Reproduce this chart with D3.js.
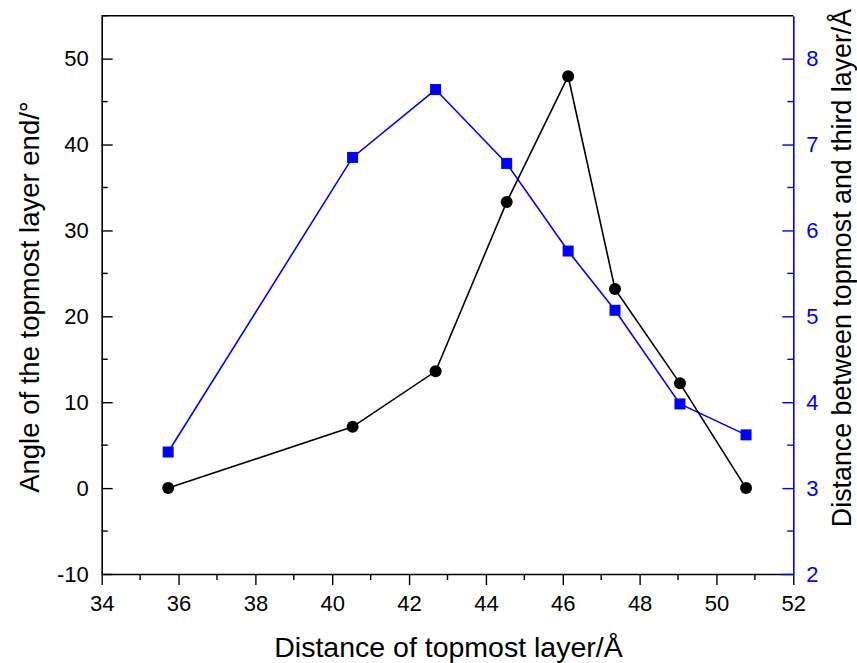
<!DOCTYPE html>
<html><head><meta charset="utf-8">
<script src="https://cdn.jsdelivr.net/npm/d3@7"></script>
<style>body{margin:0;background:#fff}svg{display:block}text{font-family:"Liberation Sans",Arial,sans-serif}</style>
</head><body>
<svg id="c" width="857" height="663"></svg>
<script>
const xValues = [35.73, 40.53, 42.69, 44.54, 46.14, 47.36, 49.05, 50.77];
const angleValues = [0, 7.13, 13.6, 33.3, 47.95, 23.17, 12.2, 0];
const distValues = [3.42, 6.85, 7.64, 6.78, 5.76, 5.07, 3.98, 3.62];
const xTicks = [34, 36, 38, 40, 42, 44, 46, 48, 50, 52];
const leftTicks = [-10, 0, 10, 20, 30, 40, 50];
const rightTicks = [2, 3, 4, 5, 6, 7, 8];
const xTitle = "Distance of topmost layer/Å";
const leftTitle = "Angle of the topmost layer end/°";
const rightTitle = "Distance between topmost and third layer/Å";

const svg = d3.select("#c");
const L = 101.7, R = 793.3, T = 15.7, B = 574;
const x = d3.scaleLinear().domain([34, 52]).range([L, R]);
const yL = d3.scaleLinear().domain([-10, 55]).range([B, T]);
const yR = d3.scaleLinear().domain([2, 8.5]).range([B, T]);
const blue = "#0000ff";
const fmt = d => String(d);

// top border
svg.append("line").attr("x1", L).attr("x2", R).attr("y1", T).attr("y2", T).attr("stroke", "#000").attr("stroke-width", 1.6);

// bottom axis
const gx = svg.append("g").attr("transform", `translate(0,${B})`)
  .call(d3.axisBottom(x).tickValues(xTicks).tickFormat(fmt).tickSize(11).tickPadding(10).tickSizeOuter(0));
gx.attr("font-size", null).attr("font-family", null);
gx.selectAll(".tick text").style("font-size", "22px").attr("fill", "#000");
gx.select(".domain").attr("stroke-width", 1.6);
gx.selectAll(".tick line").attr("stroke-width", 1.4);
const xMinor = d3.range(35, 52, 2);
svg.append("g").selectAll("line").data(xMinor).join("line")
  .attr("x1", d => x(d)).attr("x2", d => x(d)).attr("y1", B).attr("y2", B + 6)
  .attr("stroke", "#000").attr("stroke-width", 1.4);

// left axis (inward ticks)
const gl = svg.append("g").attr("transform", `translate(${L},0)`)
  .call(d3.axisLeft(yL).tickValues(leftTicks).tickFormat(fmt).tickSize(-11).tickPadding(13).tickSizeOuter(0));
gl.attr("font-size", null).attr("font-family", null);
gl.select(".domain").attr("stroke-width", 1.6);
gl.selectAll(".tick line").attr("stroke-width", 1.4);
gl.selectAll(".tick text").style("font-size", "22px").attr("fill", "#000").attr("x", -13);
const lMinor = [-5, 5, 15, 25, 35, 45, 55];
svg.append("g").selectAll("line").data(lMinor).join("line")
  .attr("x1", L).attr("x2", L + 6).attr("y1", d => yL(d)).attr("y2", d => yL(d))
  .attr("stroke", "#000").attr("stroke-width", 1.4);

// right axis (inward ticks), blue
const gr = svg.append("g").attr("transform", `translate(${R},0)`)
  .call(d3.axisRight(yR).tickValues(rightTicks).tickFormat(fmt).tickSize(-11).tickPadding(13).tickSizeOuter(0));
gr.attr("font-size", null).attr("font-family", null);
gr.select(".domain").attr("stroke", blue).attr("stroke-width", 1.6);
gr.selectAll(".tick line").attr("stroke", blue).attr("stroke-width", 1.4);
gr.selectAll(".tick text").style("font-size", "22px").attr("fill", blue).attr("x", 13);
const rMinor = [2.5, 3.5, 4.5, 5.5, 6.5, 7.5];
svg.append("g").selectAll("line").data(rMinor).join("line")
  .attr("x1", R - 6).attr("x2", R).attr("y1", d => yR(d)).attr("y2", d => yR(d))
  .attr("stroke", blue).attr("stroke-width", 1.4);

// titles
svg.append("text").attr("x", 448.5).attr("y", 657).attr("text-anchor", "middle")
  .style("font-size", "28.5px").text(xTitle);
svg.append("text").attr("transform", `translate(38.5,297) rotate(-90)`).attr("text-anchor", "middle")
  .style("font-size", "27.5px").text(leftTitle);
svg.append("text").attr("transform", `translate(851,268) rotate(-90)`).attr("text-anchor", "middle")
  .style("font-size", "26.8px").text(rightTitle);

// series
const ptsA = xValues.map((d, i) => [d, angleValues[i]]);
const ptsD = xValues.map((d, i) => [d, distValues[i]]);
svg.append("path").datum(ptsD).attr("fill", "none").attr("stroke", blue).attr("stroke-width", 1.6)
  .attr("d", d3.line().x(d => x(d[0])).y(d => yR(d[1])));
svg.append("path").datum(ptsA).attr("fill", "none").attr("stroke", "#000").attr("stroke-width", 1.6)
  .attr("d", d3.line().x(d => x(d[0])).y(d => yL(d[1])));
svg.append("g").selectAll("rect").data(ptsD).join("rect")
  .attr("x", d => x(d[0]) - 5.5).attr("y", d => yR(d[1]) - 5.5).attr("width", 11).attr("height", 11).attr("fill", blue);
svg.append("g").selectAll("circle").data(ptsA).join("circle")
  .attr("cx", d => x(d[0])).attr("cy", d => yL(d[1])).attr("r", 6).attr("fill", "#000");
</script>
</body></html>
